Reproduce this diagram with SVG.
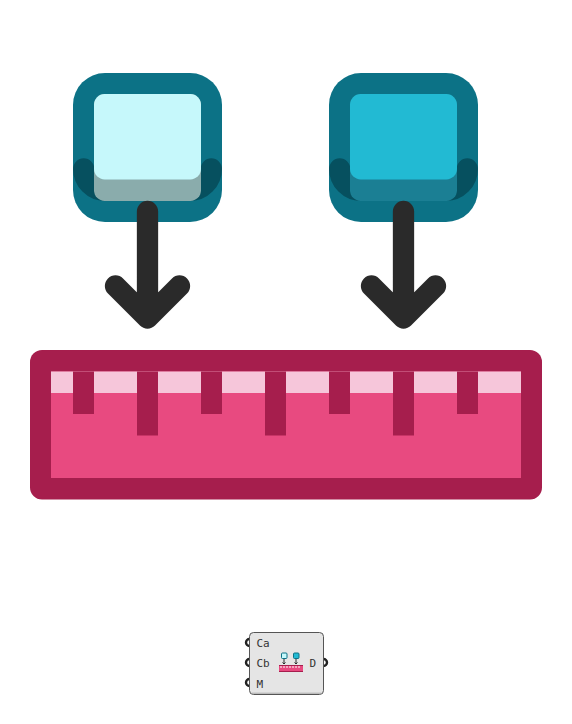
<svg xmlns="http://www.w3.org/2000/svg" width="572" height="724" viewBox="0 0 572 724">
<defs>
<style>
.frame{fill:#0c7286}
.bot1{fill:#8aacac}
.top1{fill:#c6f8fb}
.bot2{fill:#1b7f94}
.top2{fill:#22bad3}
.sh{fill:none;stroke:#06505f;stroke-width:21.3;stroke-linecap:round}
.arr{fill:none;stroke:#2a2a2a;stroke-width:21.3;stroke-linecap:round;stroke-linejoin:round}
.dk{fill:#a61e4d}
.txt{font-family:"DejaVu Sans Mono","Liberation Mono",monospace;font-size:11px;fill:#333}
.port{fill:#fff;stroke:#222;stroke-width:2.4}
</style>
</defs>
<g id="block-a">
<rect class="frame" x="73" y="73" width="149" height="149" rx="32"/>
<path class="sh" d="M83.700 169C83.700 180.700 93.300 190.300 105 190.300M211.300 169C211.300 180.700 201.700 190.300 190 190.300"/>
<rect class="bot1" x="94" y="94" width="107" height="107" rx="10.700"/>
<rect class="top1" x="94" y="94" width="107" height="85.500" rx="10.700"/>
</g>
<g id="block-b">
<rect class="frame" x="329" y="73" width="149" height="149" rx="32"/>
<path class="sh" d="M339.700 169C339.700 180.700 349.300 190.300 361 190.300M467.300 169C467.300 180.700 457.700 190.300 446 190.300"/>
<rect class="bot2" x="350" y="94" width="107" height="107" rx="10.700"/>
<rect class="top2" x="350" y="94" width="107" height="85.500" rx="10.700"/>
</g>
<g id="connectors">
<path class="arr" d="M147.500 211.500V318M115.500 286L147.500 318L179.500 286"/>
<path class="arr" d="M403.500 211.500V318M371.500 286L403.500 318L435.500 286"/>
</g>
<g id="ruler">
<rect class="dk" x="30" y="350" width="512" height="149.500" rx="12"/>
<rect x="51" y="371.500" width="470" height="106.500" fill="#e84a80"/>
<rect x="51" y="371.500" width="470" height="21.500" fill="#f6c6da"/>
<rect class="dk" x="73" y="371.500" width="21" height="42.500"/>
<rect class="dk" x="137" y="371.500" width="21" height="64"/>
<rect class="dk" x="201" y="371.500" width="21" height="42.500"/>
<rect class="dk" x="265" y="371.500" width="21" height="64"/>
<rect class="dk" x="329" y="371.500" width="21" height="42.500"/>
<rect class="dk" x="393" y="371.500" width="21" height="64"/>
<rect class="dk" x="457" y="371.500" width="21" height="42.500"/>
</g>
<g id="component">
<circle class="port" cx="249.500" cy="642.500" r="3.500"/>
<circle class="port" cx="249.500" cy="662.500" r="3.500"/>
<circle class="port" cx="249.500" cy="682.500" r="3.500"/>
<circle class="port" cx="323.500" cy="662.500" r="3.500"/>
<rect x="249.500" y="632.500" width="74" height="62" rx="4" fill="#e5e5e5" stroke="#555" stroke-width="1"/>
<path d="M251.500 693.200H321.500" stroke="#aaa" fill="none"/>
<text class="txt" x="256.500" y="647">Ca</text>
<text class="txt" x="256.500" y="667">Cb</text>
<text class="txt" x="256.500" y="688">M</text>
<text class="txt" x="309.500" y="667">D</text>
<rect x="281.500" y="653" width="5.500" height="5.500" rx="1" fill="#c6f8fb" stroke="#0c7286"/>
<rect x="293.500" y="653" width="5.500" height="5.500" rx="1" fill="#22bad3" stroke="#0c7286"/>
<path d="M284 659V664M282.500 662.500L284 664L285.500 662.500M296 659V664M294.500 662.500L296 664L297.500 662.500" fill="none" stroke="#2a2a2a" stroke-width="1"/>
<rect x="279" y="665" width="24" height="7" fill="#e84a80"/>
<path d="M279 665.500H303M279 671.500H303" stroke="#a61e4d" fill="none"/>
<path d="M281 666V668M284 666V668M287 666V668M290 666V668M293 666V668M296 666V668M299 666V668" stroke="#fff" stroke-width="1" fill="none"/>
</g>
</svg>
